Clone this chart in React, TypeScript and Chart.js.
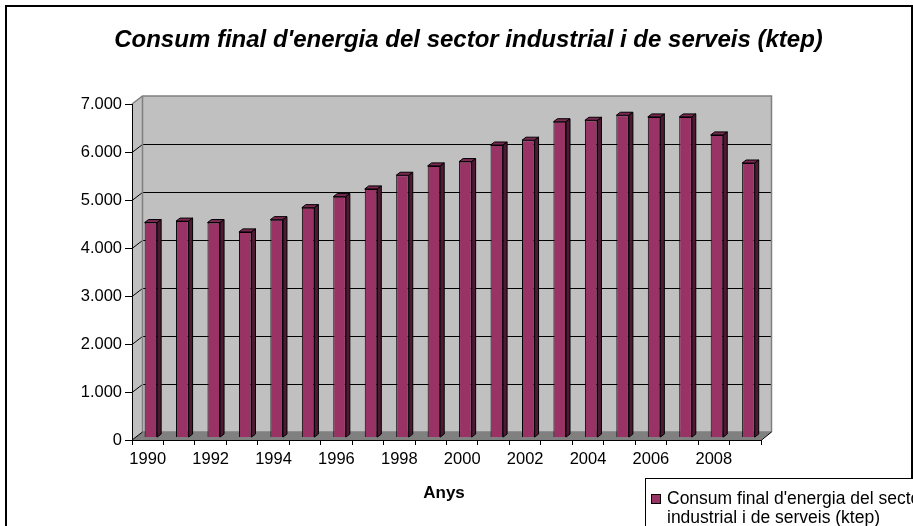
import React, { useEffect, useRef } from 'react';
import { Chart, registerables } from 'chart.js';

Chart.register(...registerables);

const years = ['1990', '1991', '1992', '1993', '1994', '1995', '1996', '1997', '1998', '1999',
  '2000', '2001', '2002', '2003', '2004', '2005', '2006', '2007', '2008', '2009'];
const consumption = [4480, 4510, 4480, 4285, 4540, 4790, 5020, 5180, 5465, 5660,
  5750, 6095, 6195, 6580, 6610, 6715, 6680, 6680, 6305, 5720];
const yTickValues = [0, 1000, 2000, 3000, 4000, 5000, 6000, 7000];
const titleText = "Consum final d'energia del sector industrial i de serveis (ktep)";
const xAxisTitle = 'Anys';
const seriesLabel = "Consum final d'energia del sector industrial i de serveis (ktep)";
const legendLines = ["Consum final d'energia del sector", 'industrial i de serveis (ktep)'];

const FONT = "'Liberation Sans', Arial, sans-serif";
const DX = 10.5;
const DY = -8;
const BAR_FRONT = 0.3;
const BAR_BACK = 0.68;
const FRONT_COLOR = '#993366';
const TOP_COLOR = '#7A2952';
const SIDE_COLOR = '#4D1933';

function poly(ctx: CanvasRenderingContext2D, pts: number[][]) {
  ctx.beginPath();
  ctx.moveTo(pts[0][0], pts[0][1]);
  for (let i = 1; i < pts.length; i++) ctx.lineTo(pts[i][0], pts[i][1]);
  ctx.closePath();
}

const excel3d = {
  id: 'excel3d',
  beforeDraw(chart: any) {
    const { ctx, chartArea: ca } = chart;
    const y = chart.scales.y;
    const L = ca.left, R = ca.right, T = ca.top, B = ca.bottom;
    ctx.save();
    ctx.fillStyle = '#ffffff';
    ctx.fillRect(0, 0, chart.width, chart.height);
    ctx.strokeStyle = '#000';
    ctx.lineWidth = 2;
    ctx.strokeRect(6, 6, 906, 600);

    // back wall
    ctx.fillStyle = '#C0C0C0';
    ctx.fillRect(L + DX, T + DY, R - L, B - T);
    // left wall
    poly(ctx, [[L, T], [L + DX, T + DY], [L + DX, B + DY], [L, B]]);
    ctx.fill();
    // floor
    ctx.fillStyle = '#808080';
    poly(ctx, [[L, B], [R, B], [R + DX, B + DY], [L + DX, B + DY]]);
    ctx.fill();

    // gridlines
    ctx.lineWidth = 1;
    ctx.strokeStyle = '#000';
    yTickValues.forEach((v) => {
      if (v === 0 || v === yTickValues[yTickValues.length - 1]) return;
      const fy = Math.round(y.getPixelForValue(v)) + 0.5;
      ctx.beginPath();
      ctx.moveTo(L, fy);
      ctx.lineTo(L + DX, fy + DY);
      ctx.lineTo(R + DX, fy + DY);
      ctx.stroke();
    });

    // wall edges
    ctx.strokeStyle = '#808080';
    ctx.lineWidth = 1.5;
    ctx.beginPath();
    ctx.moveTo(L, T);
    ctx.lineTo(L + DX, T + DY);
    ctx.lineTo(R + DX, T + DY);
    ctx.lineTo(R + DX, B + DY);
    ctx.moveTo(L + DX, T + DY);
    ctx.lineTo(L + DX, B + DY);
    ctx.lineTo(R + DX, B + DY);
    ctx.stroke();
    ctx.strokeStyle = '#000';
    ctx.lineWidth = 1;
    ctx.beginPath();
    ctx.moveTo(L, B);
    ctx.lineTo(L + DX, B + DY);
    ctx.moveTo(R, B + 0.5);
    ctx.lineTo(R + DX, B + DY);
    ctx.stroke();
    ctx.restore();
  },
  beforeDatasetsDraw(chart: any) {
    chart.ctx.save();
    chart.ctx.translate(DX * BAR_FRONT, DY * BAR_FRONT);
  },
  afterDatasetsDraw(chart: any) {
    const ctx = chart.ctx;
    const meta = chart.getDatasetMeta(0);
    const d = BAR_BACK - BAR_FRONT;
    const ddx = DX * d, ddy = DY * d;
    ctx.lineWidth = 1;
    ctx.strokeStyle = '#000';
    meta.data.forEach((bar: any) => {
      const { x, y, base, width } = bar.getProps(['x', 'y', 'base', 'width'], true);
      const l = x - width / 2, r = x + width / 2;
      ctx.fillStyle = TOP_COLOR;
      poly(ctx, [[l, y], [r, y], [r + ddx, y + ddy], [l + ddx, y + ddy]]);
      ctx.fill();
      ctx.stroke();
      ctx.fillStyle = SIDE_COLOR;
      poly(ctx, [[r, y], [r + ddx, y + ddy], [r + ddx, base + ddy], [r, base]]);
      ctx.fill();
      ctx.stroke();
    });
    ctx.restore();
  },
  afterDraw(chart: any) {
    const ctx = chart.ctx;
    ctx.save();
    ctx.fillStyle = '#000';
    ctx.textAlign = 'center';
    ctx.textBaseline = 'alphabetic';
    ctx.font = `italic bold 24px ${FONT}`;
    ctx.fillText(titleText, 468.5, 47);
    ctx.font = `bold 17px ${FONT}`;
    ctx.fillText(xAxisTitle, 444, 498);

    // legend
    ctx.fillStyle = '#fff';
    ctx.fillRect(645.5, 478.5, 400, 100);
    ctx.strokeStyle = '#000';
    ctx.lineWidth = 1;
    ctx.strokeRect(645.5, 478.5, 400, 100);
    ctx.fillStyle = FRONT_COLOR;
    ctx.fillRect(651.5, 494.5, 9, 9);
    ctx.strokeRect(651.5, 494.5, 9, 9);
    ctx.fillStyle = '#000';
    ctx.textAlign = 'left';
    ctx.font = `17.5px ${FONT}`;
    ctx.fillText(legendLines[0], 667, 504);
    ctx.fillText(legendLines[1], 667, 523);
    ctx.restore();
  },
};

export default function App() {
  const canvasRef = useRef<HTMLCanvasElement | null>(null);

  useEffect(() => {
    if (!canvasRef.current) return;
    const chart = new Chart(canvasRef.current, {
      type: 'bar',
      data: {
        labels: years,
        datasets: [
          {
            label: seriesLabel,
            data: consumption,
            backgroundColor: FRONT_COLOR,
            borderColor: '#000',
            borderWidth: 1,
            categoryPercentage: 1,
            barPercentage: 0.4,
            clip: false as any,
          },
        ],
      },
      options: {
        responsive: false,
        animation: false,
        devicePixelRatio: 1,
        layout: { padding: { top: 104, right: 152, left: 0, bottom: 0 } },
        plugins: {
          legend: { display: false },
          title: { display: false },
          tooltip: { enabled: false },
        },
        scales: {
          x: {
            afterFit: (s: any) => { s.height = 86; },
            grid: { offset: true, drawOnChartArea: false, drawTicks: true, tickLength: 5, color: '#000' },
            border: { display: true, color: '#000', width: 1 },
            ticks: {
              autoSkip: false,
              maxRotation: 0,
              padding: 5,
              color: '#000',
              font: { family: FONT, size: 16.5 },
              callback: (_v: any, i: number) => (i % 2 === 0 ? years[i] : ''),
            },
          },
          y: {
            min: 0,
            max: 7000,
            afterFit: (s: any) => { s.width = 132; },
            grid: { drawOnChartArea: false, drawTicks: true, tickLength: 7, color: '#000' },
            border: { display: true, color: '#000', width: 1 },
            ticks: {
              stepSize: 1000,
              padding: 3,
              color: '#000',
              font: { family: FONT, size: 16.5 },
              callback: (v: any) => Number(v).toLocaleString('de-DE'),
            },
          },
        },
      },
      plugins: [excel3d],
    });
    return () => chart.destroy();
  }, []);

  return (
    <div style={{ position: 'fixed', left: 0, top: 0, width: 913, height: 526, background: '#fff' }}>
      <canvas ref={canvasRef} width={913} height={526} style={{ display: 'block' }} />
    </div>
  );
}
